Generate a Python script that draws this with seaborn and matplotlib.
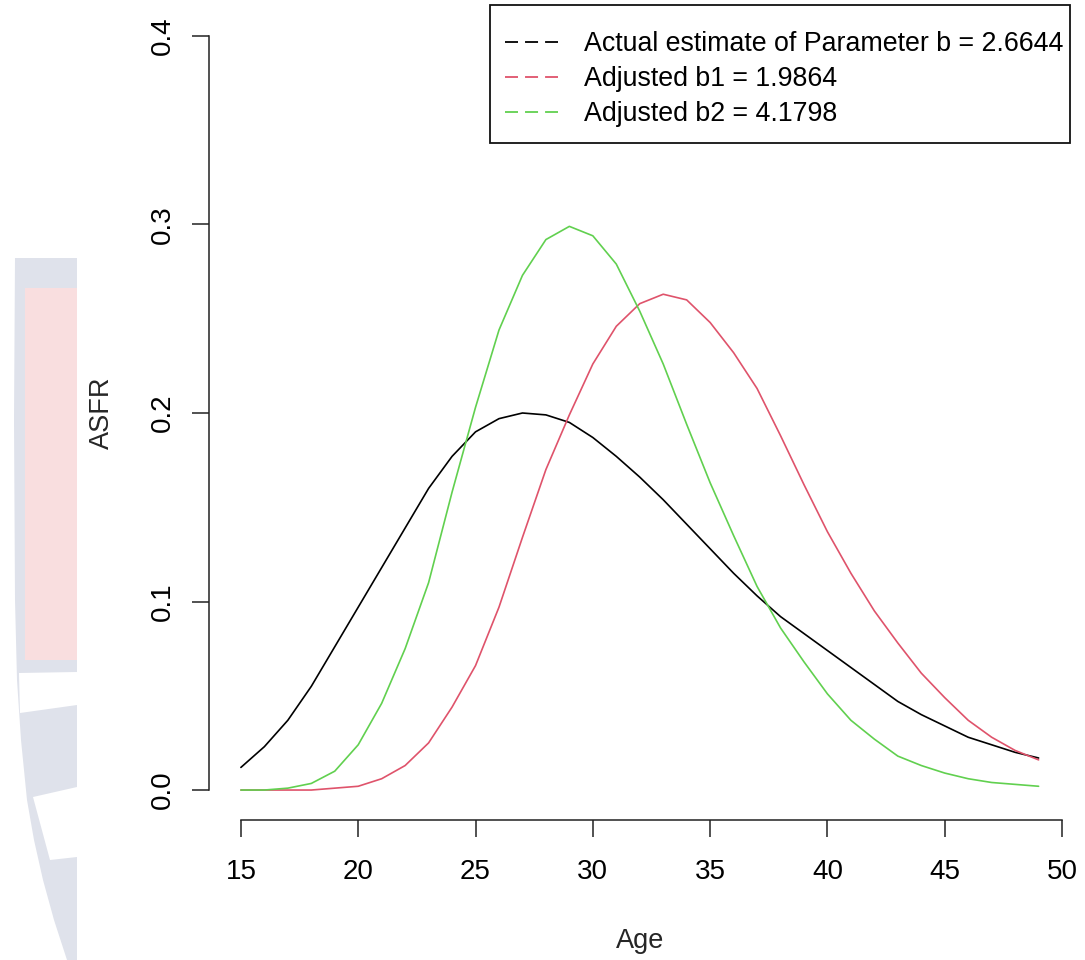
import matplotlib
matplotlib.use("Agg")
import matplotlib.pyplot as plt
from matplotlib.lines import Line2D
from matplotlib.patches import Polygon, Rectangle
import seaborn as sns
import pandas as pd

# Age-specific fertility rates by single year of age
ages = list(range(15, 50))

asfr_actual = [0.012, 0.023, 0.037, 0.055, 0.076, 0.097, 0.118, 0.139, 0.160, 0.177,
               0.190, 0.197, 0.200, 0.199, 0.195, 0.187, 0.177, 0.166, 0.154, 0.141,
               0.128, 0.115, 0.103, 0.092, 0.083, 0.074, 0.065, 0.056, 0.047, 0.040,
               0.034, 0.028, 0.024, 0.020, 0.017]

asfr_b1 = [0.000, 0.000, 0.000, 0.000, 0.001, 0.002, 0.006, 0.013, 0.025, 0.044,
           0.066, 0.097, 0.134, 0.170, 0.199, 0.226, 0.246, 0.258, 0.263, 0.260,
           0.248, 0.232, 0.213, 0.188, 0.162, 0.137, 0.115, 0.095, 0.078, 0.062,
           0.049, 0.037, 0.028, 0.021, 0.016]

asfr_b2 = [0.000, 0.000, 0.001, 0.0035, 0.010, 0.024, 0.046, 0.075, 0.110, 0.158,
           0.203, 0.244, 0.273, 0.292, 0.299, 0.294, 0.279, 0.254, 0.226, 0.194,
           0.163, 0.135, 0.108, 0.086, 0.068, 0.051, 0.037, 0.027, 0.018, 0.013,
           0.009, 0.006, 0.004, 0.003, 0.002]

series_labels = ["Actual estimate of Parameter b = 2.6644",
                 "Adjusted b1 = 1.9864",
                 "Adjusted b2 = 4.1798"]
series_colors = ["#000000", "#DF536B", "#61D04F"]

x_ticks = [15, 20, 25, 30, 35, 40, 45, 50]
y_ticks = [0.0, 0.1, 0.2, 0.3, 0.4]
y_tick_labels = ["0.0", "0.1", "0.2", "0.3", "0.4"]

df = pd.DataFrame({
    "Age": ages * 3,
    "ASFR": asfr_actual + asfr_b1 + asfr_b2,
    "series": [series_labels[0]] * len(ages) + [series_labels[1]] * len(ages)
              + [series_labels[2]] * len(ages),
})

sns.set_style("white")
plt.rcParams["font.family"] = ["Liberation Sans", "DejaVu Sans"]

W, H = 1085, 960
fig = plt.figure(figsize=(W / 100, H / 100), dpi=100)

# faint background emblem on the left margin
bg = fig.add_axes([0, 0, 1, 1], zorder=-5)
bg.set_xlim(0, W)
bg.set_ylim(H, 0)
bg.axis("off")
gray = "#dfe2eb"
bg.add_patch(Polygon([(15, 258), (77, 258), (77, 960), (67, 960), (54, 920),
                      (43, 880), (34, 840), (27, 800), (21, 740), (17, 680),
                      (15, 600), (14, 420)],
                     closed=True, facecolor=gray, edgecolor="none"))
bg.add_patch(Rectangle((25, 288), 52, 372, facecolor="#f9dedf", edgecolor="none"))
bg.add_patch(Polygon([(19, 673), (77, 672), (77, 705), (20, 713)],
                     closed=True, facecolor="white", edgecolor="none"))
bg.add_patch(Polygon([(33, 797), (77, 787), (77, 857), (50, 860)],
                     closed=True, facecolor="white", edgecolor="none"))
bg.add_patch(Rectangle((77, 0), W - 77, H, facecolor="white", edgecolor="none"))

ax = fig.add_axes([209 / W, 1 - 820.2 / H, (1070.5 - 209) / W, (820.2 - 5.8) / H])
ax.set_facecolor("none")

sns.lineplot(data=df, x="Age", y="ASFR", hue="series", palette=series_colors,
             hue_order=series_labels, linewidth=1.2, ax=ax, legend=False,
             estimator=None, sort=False)

ax.set_xlim(13.64, 50.36)
ax.set_ylim(-0.016, 0.416)

for side in ["top", "right"]:
    ax.spines[side].set_visible(False)
ax.spines["left"].set_bounds(0.0, 0.4)
ax.spines["bottom"].set_bounds(15, 50)
for side in ["left", "bottom"]:
    ax.spines[side].set_linewidth(1.1)
    ax.spines[side].set_color("#222222")

ax.set_xticks(x_ticks)
ax.set_xticklabels([str(t) for t in x_ticks])
ax.set_yticks(y_ticks)
ax.set_yticklabels(y_tick_labels, rotation=90, va="center")
ax.tick_params(axis="both", which="major", bottom=True, left=True, length=12,
               width=1.1, color="#222222", labelsize=20, labelcolor="#000000",
               direction="out")
ax.tick_params(axis="x", pad=16)
ax.tick_params(axis="y", pad=12)

ax.set_xlabel("Age", fontsize=19.5, labelpad=0)
ax.set_ylabel("ASFR", fontsize=19.5, labelpad=0)
ax.xaxis.set_label_coords((640 - 209) / (1070.5 - 209), -(928 - 820.2) / (820.2 - 5.8))
ax.yaxis.set_label_coords(-(209 - 115) / (1070.5 - 209), (820.2 - 413) / (820.2 - 5.8))

# legend box
ax.add_patch(Rectangle((490 / W, 1 - 143 / H), 580 / W, 138 / H,
                       transform=fig.transFigure, facecolor="white",
                       edgecolor="#111111", linewidth=1.3, clip_on=False, zorder=4.5))
handles = [Line2D([0], [0], color=c, linestyle=(0, (7.2, 3.9)), linewidth=1.3)
           for c in series_colors]
leg = ax.legend(handles, series_labels, loc="upper right",
                bbox_to_anchor=(1063 / W, 1 - 31 / H), bbox_transform=fig.transFigure,
                borderaxespad=0, borderpad=0, fontsize=19.3, frameon=False,
                handlelength=1.98, handletextpad=0.95, labelspacing=0.34)
for t in leg.get_texts():
    t.set_color("#000000")

fig.savefig("out.png", dpi=100)
